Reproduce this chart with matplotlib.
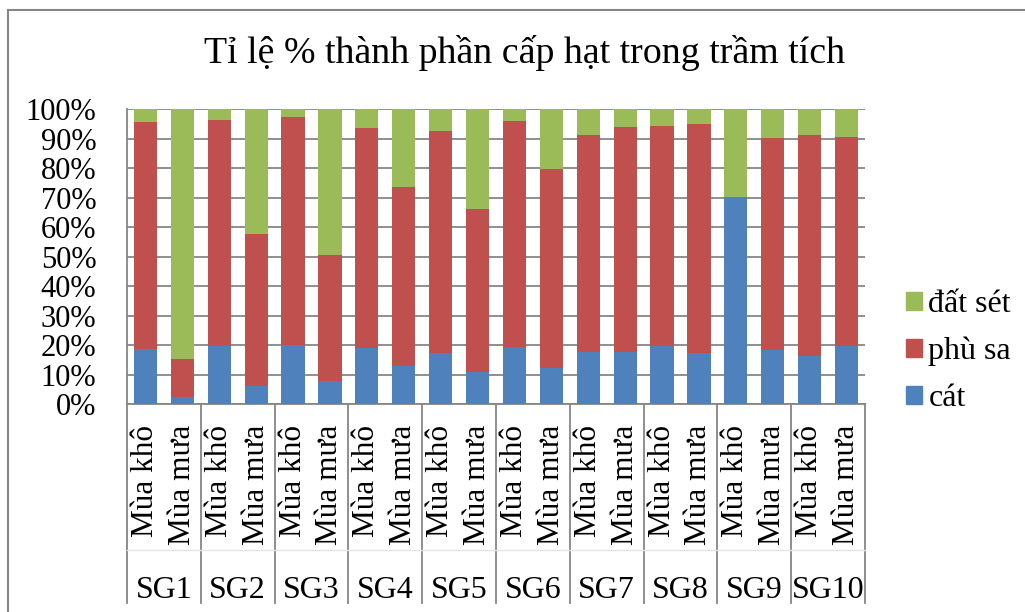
import matplotlib
matplotlib.use("Agg")
import matplotlib.pyplot as plt
from matplotlib.lines import Line2D
from matplotlib.patches import Patch
import numpy as np

plt.rcParams['font.family'] = ['Liberation Serif', 'DejaVu Serif']

stations = ["SG1", "SG2", "SG3", "SG4", "SG5", "SG6", "SG7", "SG8", "SG9", "SG10"]
seasons = ["Mùa khô", "Mùa mưa"]

# percent of each grain class, two seasons per station
cat = [18.6, 2.4, 19.7, 6.2, 20.2, 7.9, 19.0, 12.9, 17.3, 10.8,
       19.5, 12.4, 17.6, 17.6, 19.6, 17.3, 70.3, 18.3, 16.3, 19.6]
phu_sa = [77.0, 13.1, 76.5, 51.6, 77.2, 42.7, 74.5, 60.6, 75.4, 55.2,
          76.4, 67.4, 73.5, 76.2, 74.5, 77.6, 0.0, 72.0, 75.0, 71.0]
dat_set = [4.4, 84.5, 3.8, 42.2, 2.6, 49.4, 6.5, 26.5, 7.3, 34.0,
           4.1, 20.2, 8.9, 6.2, 5.9, 5.1, 29.7, 9.7, 8.7, 9.4]

BLUE = "#4F81BD"
RED = "#C0504D"
GREEN = "#9BBB59"
GRID = "#868686"

total = np.array(cat) + np.array(phu_sa) + np.array(dat_set)
s_cat = np.array(cat) / total
s_phu = np.array(phu_sa) / total
s_dat = np.array(dat_set) / total

fig = plt.figure(figsize=(10.25, 6.12), dpi=100)
ax = fig.add_axes([0.1239, 0.3394, 0.8439 - 0.1239, 0.8219 - 0.3394])

x = np.arange(len(cat))
w = 0.63
ax.bar(x, s_cat, w, color=BLUE, zorder=3)
ax.bar(x, s_phu, w, bottom=s_cat, color=RED, zorder=3)
ax.bar(x, s_dat, w, bottom=s_cat + s_phu, color=GREEN, zorder=3)

ax.set_xlim(-0.5, len(cat) - 0.5)
ax.set_ylim(0, 1)
yt = np.linspace(0, 1, 11)
ax.set_yticks(yt)
ax.set_yticklabels([f"{int(round(v * 100))}%" for v in yt])
ax.tick_params(axis='y', length=0, pad=22, labelsize=22)
ax.set_xticks([])
ax.yaxis.grid(True, color=GRID, linewidth=1.3, zorder=0)
for side in ("top", "right"):
    ax.spines[side].set_visible(False)
for side in ("left", "bottom"):
    ax.spines[side].set_color(GRID)
    ax.spines[side].set_linewidth(1.3)

# two-level category axis
tr = ax.get_xaxis_transform()
for i in x:
    ax.text(i, -0.07, seasons[i % 2], rotation=90, ha='center', va='top',
            fontsize=22.5, transform=tr, clip_on=False)
for g, name in enumerate(stations):
    ax.text(2 * g + 0.5, -0.629, name, ha='center', va='center',
            fontsize=23, transform=tr, clip_on=False)
for b in np.arange(-0.5, len(cat), 2):
    ax.add_line(Line2D([b, b], [0, -0.673], color=GRID, linewidth=1.3,
                       transform=tr, clip_on=False))
ax.add_line(Line2D([-0.5, len(cat) - 0.5], [-0.493, -0.493], color="#E4E4E4",
                   linewidth=1.0, transform=tr, clip_on=False))

handles = [Patch(color=GREEN), Patch(color=RED), Patch(color=BLUE)]
fig.legend(handles, ["đất sét", "phù sa", "cát"], loc='upper left',
           bbox_to_anchor=(906 / 1025, 1 - 290 / 612), frameon=False,
           fontsize=23, handlelength=0.5, handleheight=0.5,
           handletextpad=0.2, labelspacing=0.56, borderpad=0, borderaxespad=0)

fig.text(525 / 1025, 1 - 53 / 612, "Tỉ lệ % thành phần cấp hạt trong trầm tích",
         ha='center', va='center', fontsize=27.3)

# chart frame
fig.add_artist(Line2D([8 / 1025, 8 / 1025], [0, 1 - 10 / 612], color=GRID,
                      linewidth=1.5, transform=fig.transFigure))
fig.add_artist(Line2D([8 / 1025, 1], [1 - 10 / 612, 1 - 10 / 612], color=GRID,
                      linewidth=1.5, transform=fig.transFigure))

fig.savefig("out.png", dpi=100)
